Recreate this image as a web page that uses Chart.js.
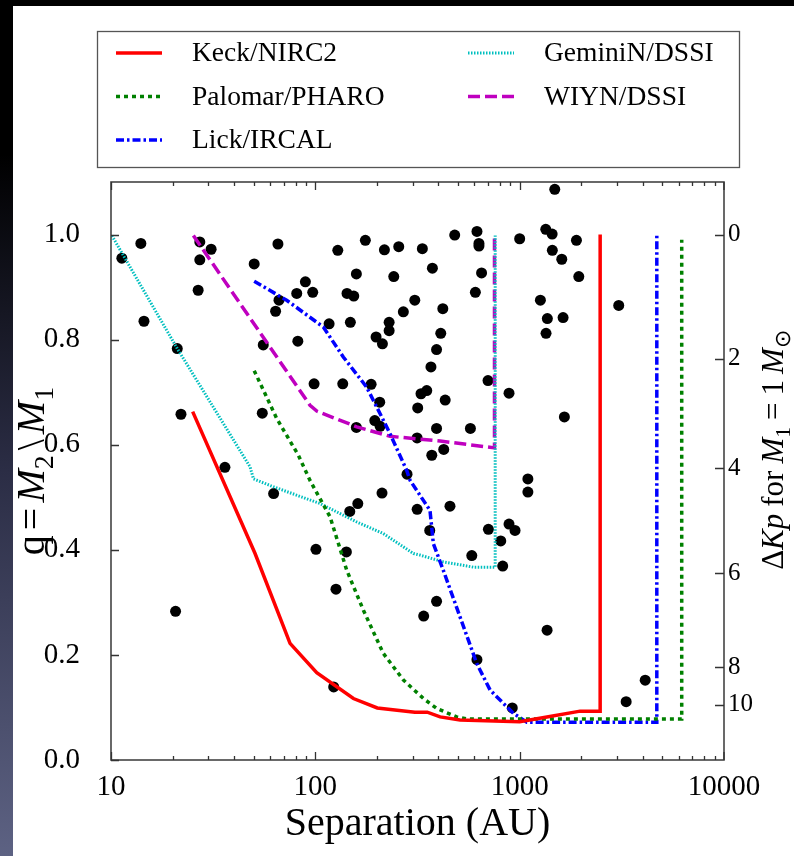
<!DOCTYPE html>
<html>
<head>
<meta charset="utf-8">
<script src="https://cdn.jsdelivr.net/npm/chart.js@4.4.1/dist/chart.umd.min.js"></script>
<style>
  html, body { margin: 0; padding: 0; background: #000; }
  #wrap { position: relative; width: 794px; height: 856px; overflow: hidden; background: #000; }
  #strip { position: absolute; left: 0; top: 0; width: 13px; height: 856px;
           background: linear-gradient(#000 0%, #000 18%, #2b2d45 55%, #5d6283 100%); }
  #page { position: absolute; left: 13px; top: 6px; right: 0; bottom: 0; background: #fff; }
  canvas { position: absolute; left: 0; top: 0; }
</style>
</head>
<body>
<div id="wrap">
  <div id="strip"></div>
  <div id="page"></div>
  <canvas id="chart" width="794" height="856"></canvas>
</div>
<script>
// ---- data ----
const sepTicks = [10, 100, 1000, 10000];
const qTicks = [0, 0.2, 0.4, 0.6, 0.8, 1.0];
const dKpTicks = [0, 2, 4, 6, 8, 10];
const dKpTickQ = [1.0, 0.764, 0.555, 0.356, 0.177, 0.105];

// detection limits, separation (AU) vs mass ratio
const keckSep = [25.1, 50.7, 75.2, 101.6, 153.6, 201, 307, 353, 408, 511, 1000, 1359, 1976, 2477, 2477];
const keckQ   = [0.663, 0.393, 0.222, 0.166, 0.117, 0.099, 0.091, 0.091, 0.082, 0.076, 0.073, 0.082, 0.093, 0.093, 1.0];

const palomarSep = [50.2, 64.7, 82.6, 94.2, 118, 142.5, 171.9, 215, 270, 338, 393, 492, 551, 6210, 6210];
const palomarQ   = [0.741, 0.650, 0.580, 0.532, 0.463, 0.361, 0.285, 0.203, 0.152, 0.117, 0.098, 0.082, 0.078, 0.078, 0.99];

const lickSep = [50.2, 72.4, 109.4, 137, 178, 207.5, 232, 280, 291, 364, 378, 423, 511, 616, 717, 931, 1084, 4690, 4690];
const lickQ   = [0.911, 0.875, 0.824, 0.767, 0.710, 0.659, 0.621, 0.551, 0.532, 0.475, 0.412, 0.361, 0.272, 0.184, 0.133, 0.089, 0.072, 0.072, 1.0];

const geminiSep = [10.1, 21.1, 47.9, 49.8, 62.3, 105.5, 159.5, 215, 302, 325, 424, 593, 759, 759];
const geminiQ   = [0.998, 0.783, 0.558, 0.535, 0.520, 0.488, 0.453, 0.431, 0.393, 0.390, 0.377, 0.367, 0.367, 0.998];

const wiynSep = [25.3, 94.2, 101.6, 159.5, 232, 408, 753, 753];
const wiynQ   = [0.998, 0.675, 0.664, 0.634, 0.616, 0.607, 0.594, 0.998];

// observed binaries
const binSep = [11.3, 14.0, 14.5, 21.1, 22.0, 20.7, 27.2, 30.9, 27.2, 26.7, 36.1,
  50.2, 65.6, 55.6, 55.0, 66.4, 63.9, 62.5, 81.1, 89.4, 97.1, 82.1, 98.6,
  116.8, 128.8, 136.2, 142.9, 154.2, 158.8, 148.4, 158.8, 175.7, 187.5, 198.3, 213, 206.6, 195.4, 207.5,
  217.8, 229.7, 229.7, 242, 256, 269.6, 306.7, 314.8, 334, 374, 317, 368, 392, 371.5, 392,
  329, 351, 420.6, 411, 432, 574, 425, 481, 618, 632, 632, 651, 607, 700, 887,
  1000, 1342, 1442, 1485, 1445, 1607, 1896, 1947, 1263, 1366, 1631, 1346, 1655, 3054,
  100.7, 141.9, 147.4, 161.4, 126.2, 123, 212, 315, 363, 281, 339, 392,
  456, 583, 703, 808, 887, 949, 826, 1097, 1097, 1362, 618, 920, 3320, 4115];
const binQ = [0.955, 0.983, 0.835, 0.783, 0.658, 0.283, 0.986, 0.972, 0.952, 0.894, 0.557,
  0.944, 0.982, 0.790, 0.660, 0.875, 0.854, 0.507, 0.888, 0.910, 0.890, 0.797, 0.716,
  0.830, 0.970, 0.716, 0.888, 0.883, 0.925, 0.833, 0.633, 0.989, 0.715, 0.805, 0.792, 0.681, 0.646, 0.635,
  0.971, 0.833, 0.817, 0.920, 0.977, 0.853, 0.875, 0.613, 0.973, 0.936, 0.670, 0.748, 0.781, 0.580, 0.631,
  0.697, 0.703, 0.859, 0.812, 0.685, 0.631, 0.591, 0.999, 1.006, 0.983, 0.978, 0.927, 0.890, 0.722, 0.698,
  0.992, 1.010, 1.001, 1.086, 0.970, 0.953, 0.989, 0.920, 0.875, 0.840, 0.842, 0.812, 0.653, 0.865,
  0.401, 0.396, 0.473, 0.488, 0.325, 0.139, 0.508, 0.477, 0.437, 0.544, 0.274, 0.302,
  0.483, 0.389, 0.439, 0.417, 0.449, 0.437, 0.369, 0.535, 0.510, 0.247, 0.191, 0.099, 0.111, 0.152];

const SERIF = "'Liberation Serif', 'Times New Roman', serif";

function pts(xs, ys) {
  return xs.map((x, i) => ({ x, y: ys[i] }));
}

function limitLine(label, xs, ys, color, dash, width) {
  return {
    label,
    data: pts(xs, ys),
    showLine: true,
    borderColor: color,
    backgroundColor: color,
    borderWidth: width,
    borderDash: dash,
    borderCapStyle: "butt",
    pointRadius: 0,
    tension: 0,
    fill: false,
  };
}

const datasets = [
  limitLine("Keck/NIRC2", keckSep, keckQ, "#ff0000", [], 3.5),
  limitLine("Palomar/PHARO", palomarSep, palomarQ, "#008000", [4, 4], 3.5),
  limitLine("Lick/IRCAL", lickSep, lickQ, "#0000ff", [8, 3, 2.5, 3], 3.5),
  limitLine("GeminiN/DSSI", geminiSep, geminiQ, "#00bfbf", [1.5, 1.5], 3),
  limitLine("WIYN/DSSI", wiynSep, wiynQ, "#bf00bf", [12, 5], 3.5),
  {
    label: "binaries",
    data: pts(binSep, binQ),
    showLine: false,
    pointRadius: 5.5,
    pointBackgroundColor: "#000",
    pointBorderWidth: 0,
  },
];

// draw a run of mixed roman / italic / subscript text along +x from x0
function drawRuns(ctx, runs, size, x0, y0, measureOnly) {
  let x = x0;
  for (const r of runs) {
    const s = r.sub ? size * 0.7 : size;
    ctx.font = (r.it ? "italic " : "") + s + "px " + SERIF;
    const w = ctx.measureText(r.t).width;
    if (!measureOnly) ctx.fillText(r.t, x, y0 + (r.sub ? size * 0.22 : 0));
    x += w + (r.gap || 0);
  }
  return x - x0;
}

function rotatedTitle(ctx, runs, size, bx, cy) {
  ctx.save();
  ctx.translate(bx, cy);
  ctx.rotate(-Math.PI / 2);
  ctx.textBaseline = "alphabetic";
  ctx.textAlign = "left";
  const w = drawRuns(ctx, runs, size, 0, 0, true);
  drawRuns(ctx, runs, size, -w / 2, 0, false);
  ctx.restore();
}

const decorPlugin = {
  id: "decor",
  afterDraw(chart) {
    const { ctx, chartArea: a, scales } = chart;
    const xs = scales.x, yl = scales.y, yr = scales.y2;
    ctx.save();

    // frame
    ctx.strokeStyle = "#444";
    ctx.lineWidth = 1.6;
    ctx.strokeRect(a.left, a.top, a.right - a.left, a.bottom - a.top);

    // inward tick marks
    ctx.strokeStyle = "#333";
    ctx.lineWidth = 1.3;
    ctx.beginPath();
    for (let d = 10; d < 10000; d *= 10) {
      for (let m = 1; m <= 9; m++) {
        const px = Math.round(xs.getPixelForValue(m * d)) + 0.5;
        const len = m === 1 ? 8 : 4;
        ctx.moveTo(px, a.bottom); ctx.lineTo(px, a.bottom - len);
        ctx.moveTo(px, a.top); ctx.lineTo(px, a.top + len);
      }
    }
    const pEnd = xs.getPixelForValue(10000);
    ctx.moveTo(pEnd, a.bottom); ctx.lineTo(pEnd, a.bottom - 8);
    ctx.moveTo(pEnd, a.top); ctx.lineTo(pEnd, a.top + 8);
    qTicks.forEach(v => {
      const py = Math.round(yl.getPixelForValue(v)) + 0.5;
      ctx.moveTo(a.left, py); ctx.lineTo(a.left + 8, py);
    });
    dKpTickQ.forEach(v => {
      const py = Math.round(yr.getPixelForValue(v)) + 0.5;
      ctx.moveTo(a.right, py); ctx.lineTo(a.right - 9, py);
    });
    ctx.stroke();

    // axis titles
    ctx.fillStyle = "#000";
    ctx.font = "40px " + SERIF;
    ctx.textAlign = "center";
    ctx.textBaseline = "alphabetic";
    ctx.fillText("Separation (AU)", (a.left + a.right) / 2, 835);

    rotatedTitle(ctx, [
      { t: "q", gap: 5 }, { t: "=", gap: 5 }, { t: "M", it: 1 }, { t: "2", sub: 1, gap: 5 },
      { t: "\\", gap: 5 }, { t: "M", it: 1 }, { t: "1", sub: 1 },
    ], 40, 44, 471);

    rotatedTitle(ctx, [
      { t: "\u0394" }, { t: "Kp", it: 1, gap: 7 }, { t: "for", gap: 7 }, { t: "M", it: 1 },
      { t: "1", sub: 1, gap: 7 }, { t: "=", gap: 7 }, { t: "1", gap: 6 }, { t: "M", it: 1 },
      { t: "\u2299", sub: 1 },
    ], 31, 783, 450);

    // legend
    const box = { l: 97, t: 31, r: 739, b: 167 };
    ctx.fillStyle = "#fff";
    ctx.fillRect(box.l, box.t, box.r - box.l, box.b - box.t);
    ctx.strokeStyle = "#555";
    ctx.lineWidth = 1.3;
    ctx.strokeRect(box.l + 0.5, box.t + 0.5, box.r - box.l, box.b - box.t);
    const sampleX = [116, 468], textX = [192, 544];
    ctx.font = "27.5px " + SERIF;
    ctx.textAlign = "left";
    ctx.textBaseline = "middle";
    chart.data.datasets.slice(0, 5).forEach((ds, i) => {
      const col = i < 3 ? 0 : 1;
      const row = i < 3 ? i : i - 3;
      const y = 53 + row * 43.5;
      ctx.strokeStyle = ds.borderColor;
      ctx.lineWidth = ds.borderWidth;
      ctx.setLineDash(ds.borderDash);
      ctx.beginPath();
      ctx.moveTo(sampleX[col], y);
      ctx.lineTo(sampleX[col] + 46, y);
      ctx.stroke();
      ctx.setLineDash([]);
      ctx.fillStyle = "#000";
      ctx.fillText(ds.label, textX[col], y + 1);
    });

    ctx.restore();
  },
};

const tickFont = { family: SERIF, size: 29 };

new Chart(document.getElementById("chart"), {
  type: "scatter",
  data: { datasets },
  options: {
    responsive: false,
    animation: false,
    devicePixelRatio: 1,
    layout: { padding: { top: 182, left: 0, right: 0, bottom: 0 } },
    plugins: { legend: { display: false }, tooltip: { enabled: false } },
    scales: {
      x: {
        type: "logarithmic",
        position: "bottom",
        min: 10,
        max: 10000,
        grid: { display: false, drawTicks: false },
        border: { display: false },
        ticks: { font: tickFont, color: "#000", padding: 10, maxRotation: 0, autoSkip: false,
                 callback: v => String(v) },
        afterBuildTicks: s => { s.ticks = sepTicks.map(v => ({ value: v })); },
        afterFit: s => { s.height = 96; },
      },
      y: {
        position: "left",
        min: 0,
        max: 1.1,
        grid: { display: false, drawTicks: false },
        border: { display: false },
        ticks: { font: tickFont, color: "#000", padding: 31, callback: v => v.toFixed(1) },
        afterBuildTicks: s => { s.ticks = qTicks.map(v => ({ value: v })); },
        afterFit: s => { s.width = 111; },
      },
      y2: {
        position: "right",
        min: 0,
        max: 1.1,
        grid: { display: false, drawTicks: false },
        border: { display: false },
        ticks: { font: { family: SERIF, size: 25 }, color: "#000", padding: 4,
                 callback: (v, i) => String(dKpTicks[i]) },
        afterBuildTicks: s => { s.ticks = dKpTickQ.map(v => ({ value: v })); },
        afterFit: s => { s.width = 70; },
      },
    },
  },
  plugins: [decorPlugin],
});
</script>
</body>
</html>
